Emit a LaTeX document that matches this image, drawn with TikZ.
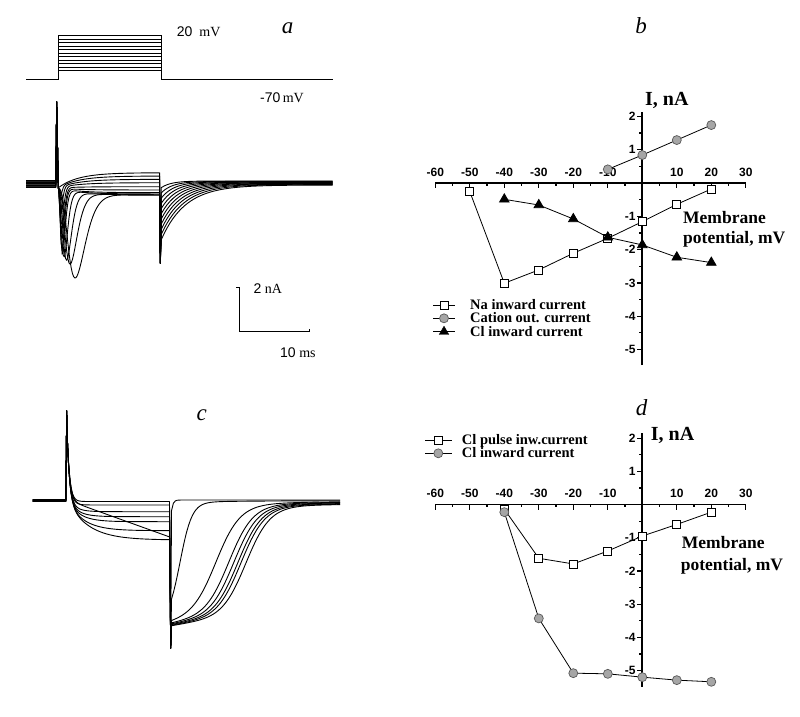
\documentclass[tikz,border=0pt]{standalone}
\usepackage{fontspec}
\setmainfont{Liberation Serif}
\setsansfont{Liberation Sans}
\usetikzlibrary{plotmarks}
\begin{document}
\begin{tikzpicture}[x=1pt,y=-1pt,every node/.style={inner sep=0pt},
  declare function={alph(\u,\w)=exp(4*ln(\u/\w)+4-4*\u/\w);
    sigm(\u,\w)=1/(1+exp(min(\u/\w,9)));},
  trace/.style={line width=0.9pt,line join=round},
  axis/.style={line width=1.8pt},
  tickmark/.style={line width=1.2pt},
  ticklab/.style={font=\fontsize{12}{13}\selectfont\sffamily\bfseries},
  axlabel/.style={font=\fontsize{17.5}{18}\selectfont\bfseries,anchor=base west},
  unitlab/.style={font=\fontsize{20}{21}\selectfont\bfseries,anchor=base west},
  legtext/.style={font=\fontsize{14.5}{15}\selectfont\bfseries,anchor=base west},
  letter/.style={font=\fontsize{23}{24}\selectfont\itshape,anchor=base},
  note/.style={font=\fontsize{14}{15}\selectfont,anchor=base west},
  dataline/.style={line width=0.8pt},
  sqmark/.style={mark=square*,mark size=4pt,mark options={fill=white,draw=black,line width=0.7pt}},
  cimark/.style={mark=*,mark size=4.5pt,mark options={fill=black!35,draw=black!65,line width=0.7pt}},
  trmark/.style={mark=triangle*,mark size=5.5pt,mark options={fill=black,draw=black}}]
  \useasboundingbox (0,0) rectangle (800,716);

  \draw [line width=1.2pt] (26,79.3) -- (58.3,79.3) -- (58.3,35.7) -- (161.7,35.7) -- (161.7,79.3) -- (332.7,79.3);
  \foreach \k in {1,...,10}
    \draw [line width=0.9pt] (58.3,{35.7+3.5*\k}) -- (161.7,{35.7+3.5*\k});
  \node [note] (vtop) at (176.7,36.7) {{\sffamily 20}\ \ mV};
  \node [note] (vhold) at (260,102.7) {{\sffamily -70}\,mV};
  \node [letter] (la) at (287.5,33.3) {a};

  \foreach \k/\ye/\tp/\amp in {0/172.7/3/0,1/176/2.5/10,2/179.3/3/22,3/182.7/3.5/38,4/186.7/3.8/52,5/190/4/62,6/192.7/4.5/66,7/194/6/68,8/195/8.5/70,9/195/12/73,10/195/17/86}
    \draw [trace] (26,{180.5+0.7*\k}) -- (55.8,{180.5+0.7*\k}) -- (56.7,101.7) -- (58.3,188)
      -- plot [domain=58.8:159.6,samples=90] (\x,{\ye+(188-\ye)*exp(-(\x-58)/20)+\amp*alph(\x-58,\tp)})
      -- (160.3,263.3)
      -- plot [domain=161.3:332.7,samples=60] (\x,{181+0.4*\k+(6.6+4.8*\k)*exp(-(\x-161.3)/(10+1.4*\k))});

  \draw [line width=1.2pt] (236,287.3) -- (239.3,287.3) -- (239.3,331.7) -- (309.3,331.7) -- (309.3,328.5);
  \node [note] (ampbar) at (253.3,293.3) {{\sffamily 2} nA};
  \node [note] (timebar) at (280,357.3) {{\sffamily 10} ms};

  \node [letter] (lc) at (201.7,420.7) {c};
  \foreach \k/\lev/\tc/\m/\s/\e in {0/501.5/3/168/1.5/0,1/505/5/180/6/2,2/511.7/8/216/12/10,3/516.7/10/229/12/10,4/521.7/12/234/12/10,5/530.7/16/238/12/10,6/540/21/241/12/10}
    \draw [trace] (32.7,{499.5+0.3*\k}) -- (65.8,{499.5+0.3*\k}) -- (66.7,410.7)
      -- plot [domain=67.3:169.5,samples=80] (\x,{500-70*exp(-(\x-67)/2.5)+(\lev-500)*(1-exp(-(\x-67)/\tc))})
      -- (170.7,648.3)
      -- plot [domain=171.5:340,samples=90] (\x,{500+0.6*\k+(122-\e)*sigm(\x-\m,\s)+\e*exp(-(\x-171.5)/60)});
  \draw [trace] (32.7,501.5) -- (65.8,501.5) -- (66.7,410.7)
    -- plot [domain=67.3:169.5,samples=80] (\x,{500-70*exp(-(\x-67)/2.5)+0.36*(\x-67)})
    -- (170.7,648.3)
    -- plot [domain=171.5:340,samples=90] (\x,{504+112*sigm(\x-246,12)+10*exp(-(\x-171.5)/60)});

  \node [letter] (lb) at (641,33.3) {b};
  \begin{scope}[shift={(642.3,183)},x=3.45pt,y=33.3pt]
    \draw [axis] (-60,0) -- (30,0);
    \draw [axis] (0,-5.47) -- (0,2.13);
    \foreach \t in {-60,-50,...,30} \draw [tickmark] (\t,0) -- ++(0,-5pt);
    \foreach \t in {-55,-45,...,25} \draw [tickmark] (\t,0) -- ++(0,-2.5pt);
    \foreach \t in {-5,...,-1,1,2} \draw [tickmark] (0,\t) -- ++(-5pt,0);
    \foreach \t in {-4.5,-3.5,...,1.5} \draw [tickmark] (0,\t) -- ++(-3pt,0);
    \foreach \t in {-60,-50,...,-10,10,20,30}
      \node [ticklab,anchor=base,yshift=6.6pt] (bx\t) at (\t,0) {\t};
    \foreach \t in {-5,...,-1,1,2}
      \node [ticklab,anchor=east,xshift=-6.5pt] (by\t) at (0,\t) {\t};
    \draw [dataline] plot [sqmark] coordinates {(-50,-0.26) (-40,-3.01) (-30,-2.61) (-20,-2.11) (-10,-1.66) (0,-1.16) (10,-0.64) (20,-0.18)};
    \draw [dataline] plot [trmark] coordinates {(-40,-0.49) (-30,-0.66) (-20,-1.08) (-10,-1.63) (0,-1.86) (10,-2.23) (20,-2.39)};
    \draw [dataline] plot [cimark] coordinates {(-10,0.41) (0,0.84) (10,1.29) (20,1.74)};
  \end{scope}
  \node [unitlab] (bunit) at (645,105) {I, nA};
  \node [axlabel] (bmemb) at (683,223.3) {Membrane};
  \node [axlabel] (bpot) at (683,243.3) {potential, mV};
  \draw [dataline] (433.3,305) -- (455,305);
  \path plot [sqmark] coordinates {(444,305)};
  \node [legtext] (bleg1) at (470,309.5) {Na inward current};
  \draw [dataline] (433.3,318.3) -- (455,318.3);
  \path plot [cimark] coordinates {(444,318.3)};
  \node [legtext] (bleg2) at (470,322.8) {Cation out. current};
  \draw [dataline] (433.3,331.7) -- (455,331.7);
  \path plot [trmark] coordinates {(444,331.7)};
  \node [legtext] (bleg3) at (470,336.2) {Cl inward current};

  \node [letter] (ld) at (641.7,415) {d};
  \begin{scope}[shift={(642.3,504.5)},x=3.45pt,y=33.2pt]
    \draw [axis] (-60,0) -- (30,0);
    \draw [axis] (0,-5.49) -- (0,2.15);
    \foreach \t in {-60,-50,...,30} \draw [tickmark] (\t,0) -- ++(0,-5pt);
    \foreach \t in {-55,-45,...,25} \draw [tickmark] (\t,0) -- ++(0,-2.5pt);
    \foreach \t in {-5,...,-1,1,2} \draw [tickmark] (0,\t) -- ++(-5pt,0);
    \foreach \t in {-4.5,-3.5,...,1.5} \draw [tickmark] (0,\t) -- ++(-3pt,0);
    \foreach \t in {-60,-50,...,-10,10,20,30}
      \node [ticklab,anchor=base,yshift=6.6pt] (dx\t) at (\t,0) {\t};
    \foreach \t in {-5,...,-1,1,2}
      \node [ticklab,anchor=east,xshift=-6.5pt] (dy\t) at (0,\t) {\t};
    \draw [dataline] plot [sqmark] coordinates {(-40,-0.14) (-30,-1.62) (-20,-1.79) (-10,-1.4) (0,-0.95) (10,-0.6) (20,-0.23)};
    \draw [dataline] plot [cimark] coordinates {(-40,-0.23) (-30,-3.43) (-20,-5.08) (-10,-5.1) (0,-5.2) (10,-5.29) (20,-5.34)};
  \end{scope}
  \node [unitlab] (dunit) at (650.7,440) {I, nA};
  \node [axlabel] (dmemb) at (681.7,548.3) {Membrane};
  \node [axlabel] (dpot) at (680.7,570) {potential, mV};
  \draw [dataline] (425,440) -- (451.7,440);
  \path plot [sqmark] coordinates {(438.3,440)};
  \node [legtext] (dleg1) at (461.7,444.5) {Cl pulse inw.current};
  \draw [dataline] (425,453.3) -- (451.7,453.3);
  \path plot [cimark] coordinates {(438.3,453.3)};
  \node [legtext] (dleg2) at (461.7,457.8) {Cl inward current};
\end{tikzpicture}
\end{document}
